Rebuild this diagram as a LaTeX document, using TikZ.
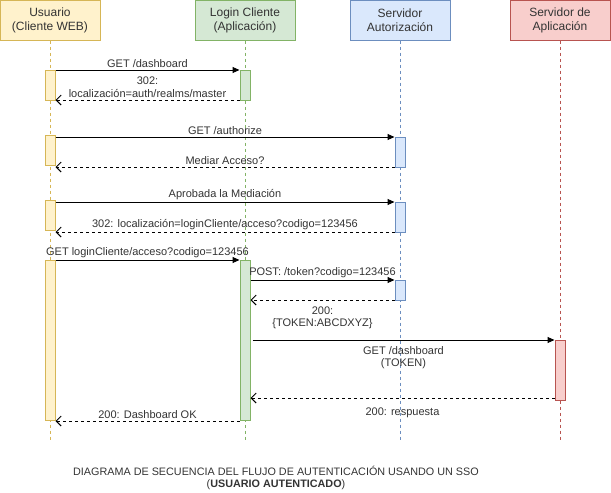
\documentclass[tikz,border=0pt]{standalone}
\usepackage{fontspec}
\setmainfont{Liberation Sans}
\usetikzlibrary{arrows.meta,calc}
\definecolor{usFill}{HTML}{FFF2CC}\definecolor{usLine}{HTML}{D6B656}
\definecolor{lcFill}{HTML}{D5E8D4}\definecolor{lcLine}{HTML}{82B366}
\definecolor{auFill}{HTML}{DAE8FC}\definecolor{auLine}{HTML}{6C8EBF}
\definecolor{apFill}{HTML}{F8CECC}\definecolor{apLine}{HTML}{B85450}
\definecolor{txt}{HTML}{333333}
\tikzset{
  msg/.style={line width=1pt, -{Triangle[length=7pt,width=6pt]}},
  ret/.style={line width=1pt, dash pattern=on 3pt off 3pt, -{Straight Barb[length=5pt,width=10pt]}},
  lbl/.style={font=\fontsize{11}{12.5}\selectfont, text=txt, align=center, inner sep=2pt}
}
\def\lifeline(#1,#2,#3,#4,#5){
  \node[draw=#5, fill=#4, line width=1pt, minimum width=100pt, minimum height=40pt, align=center, text=txt, font=\fontsize{12}{14}\selectfont] (#1) at (#2,20) {#3};
  \coordinate (#1_end) at (#2,440);
  \draw[#5, line width=1pt, dash pattern=on 3pt off 3pt] (#1.south) -- (#1_end);
}
\def\actbar(#1,#2,#3,#4,#5){
  \node[draw=#5Line, fill=#5Fill, line width=1pt, minimum width=10pt, minimum height=#4, inner sep=0pt, anchor=north] (#1) at (#2,#3) {};
}
\begin{document}
\begin{tikzpicture}[x=1pt, y=-1pt]
\useasboundingbox (0,0) rectangle (611,493);
\lifeline(us,50,{Usuario\\(Cliente WEB)},usFill,usLine)
\lifeline(lc,245,{Login Cliente\\(Aplicación)},lcFill,lcLine)
\lifeline(au,400,{Servidor\\Autorización},auFill,auLine)
\lifeline(ap,560,{Servidor de\\Aplicación},apFill,apLine)
% activaciones
\actbar(us_a1,50,70,30pt,us)
\actbar(lc_a1,245,70,30pt,lc)
\actbar(us_a2,50,135,30pt,us)
\actbar(au_a2,400,137,30pt,au)
\actbar(us_a3,50,200,30pt,us)
\actbar(au_a3,400,202,30pt,au)
\actbar(us_a4,50,260,160pt,us)
\actbar(lc_a4,245,260,160pt,lc)
\actbar(au_a4,400,280,20pt,au)
\actbar(ap_a4,560,340,60pt,ap)
% mensajes
\draw[msg] (us_a1.north east) -- node[lbl, above] {GET /dashboard} (lc_a1.north west);
\draw[ret] ([yshift=1pt]lc_a1.south west) -- node[lbl, above] {302:\\localización=auth/realms/master} ([yshift=1pt]us_a1.south east);
\draw[msg] (us_a2.north east |- au_a2.north) -- node[lbl, above] {GET /authorize} (au_a2.north west);
\draw[ret] ([yshift=1pt]au_a2.south west) -- node[lbl, above] {Mediar Acceso?} ([yshift=1pt]au_a2.south -| us_a2.east);
\draw[msg] (us_a3.north east |- au_a3.north) -- node[lbl, above] {Aprobada la Mediación} (au_a3.north west);
\draw[ret] ([yshift=1pt]au_a3.south west) -- node[lbl, above] {302: localización=loginCliente/acceso?codigo=123456} ([yshift=1pt]au_a3.south -| us_a3.east);
\draw[msg] (us_a4.north east) -- node[lbl, above] {GET loginCliente/acceso?codigo=123456} (lc_a4.north west);
\draw[msg] (au_a4.north -| lc_a4.east) -- node[lbl, above] {POST: /token?codigo=123456} (au_a4.north west);
\draw[ret] ([yshift=1pt]au_a4.south west) -- node[lbl, below=4pt] {200:\\\{TOKEN:ABCDXYZ\}} ([yshift=1pt]au_a4.south -| lc_a4.east);
\draw[msg] ([xshift=2pt]ap_a4.north -| lc_a4.east) -- node[lbl, below=4pt] {GET /dashboard\\(TOKEN)} (ap_a4.north west);
\draw[ret] ([yshift=3pt]ap_a4.south west) -- node[lbl, below=7pt] {200: respuesta} ([yshift=3pt]ap_a4.south -| lc_a4.east);
\draw[ret] (lc_a4.south west) -- node[lbl, above] {200: Dashboard OK} (us_a4.south east);
% titulo
\node[lbl, font=\fontsize{10.8}{12}\selectfont] (titulo) at (276,478) {DIAGRAMA DE SECUENCIA DEL FLUJO DE AUTENTICACIÓN USANDO UN SSO\\(\textbf{USUARIO AUTENTICADO})};
\end{tikzpicture}
\end{document}
